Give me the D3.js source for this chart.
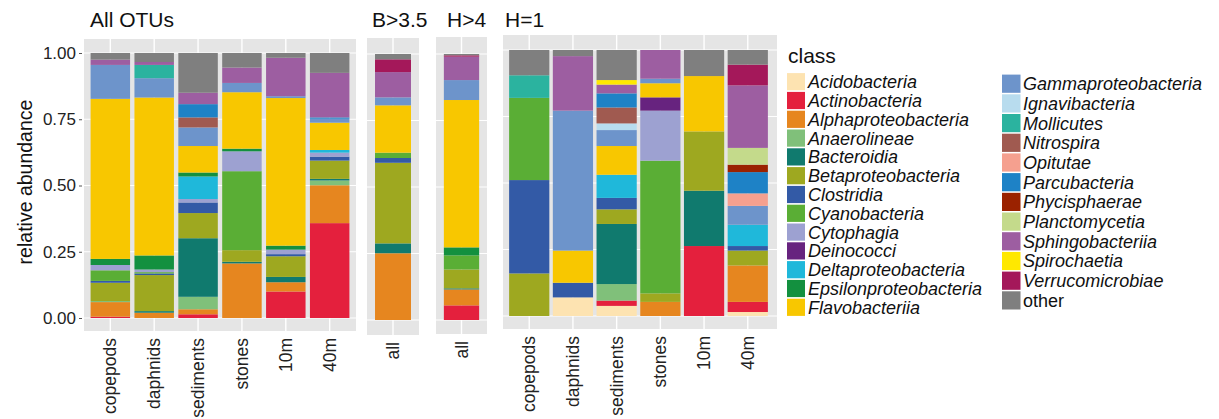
<!DOCTYPE html>
<html>
<head>
<meta charset="utf-8">
<script src="https://cdn.jsdelivr.net/npm/d3@7"></script>
<style>
  body { margin: 0; background: #ffffff; }
  svg { display: block; }
  text { font-family: "Liberation Sans", Arial, Helvetica, sans-serif; }
</style>
</head>
<body>
<svg id="chart" width="1219" height="419"></svg>
<script>
// Bacterial classes, in legend / stacking order (bottom of each bar first)
const classes = [
  "Acidobacteria", "Actinobacteria", "Alphaproteobacteria", "Anaerolineae",
  "Bacteroidia", "Betaproteobacteria", "Clostridia", "Cyanobacteria",
  "Cytophagia", "Deinococci", "Deltaproteobacteria", "Epsilonproteobacteria",
  "Flavobacteriia", "Gammaproteobacteria", "Ignavibacteria", "Mollicutes",
  "Nitrospira", "Opitutae", "Parcubacteria", "Phycisphaerae",
  "Planctomycetia", "Sphingobacteriia", "Spirochaetia", "Verrucomicrobiae", "other"
];
const classColors = [
  "#fde3b1", "#e4203d", "#e6861f", "#80c07a",
  "#107a6e", "#9ea820", "#335aa6", "#5aae35",
  "#9da1d1", "#67237f", "#1fb8da", "#13903f",
  "#f8c700", "#6d94cb", "#b8dcee", "#2bb39f",
  "#a05a50", "#f5a08f", "#1e82c6", "#9a2200",
  "#c4da8b", "#9d5ea1", "#ffe800", "#a4185a", "#7f7f7f"
];

const sites = ["copepods", "daphnids", "sediments", "stones", "10m", "40m"];
const pooled = ["all"];
const panelTitles = ["All OTUs", "B>3.5", "H>4", "H=1"];
const yTicks = [0, 0.25, 0.5, 0.75, 1];

// Relative abundance of each class (same order as `classes`) per bar
// --- All OTUs
const allCopepods  = [0, .005, .055, .004, 0, .069, .007, .040, .020, 0, 0, .023, .604, .128, 0, 0, 0, 0, 0, 0, 0, .020, 0, 0, .025];
const allDaphnids  = [0, 0, .020, 0, .006, .136, .006, .005, .010, 0, 0, .053, .596, .073, 0, .050, 0, 0, 0, 0, 0, .011, 0, 0, .034];
const allSediments = [0, .014, .019, .047, .221, .095, .040, 0, .013, 0, .085, .015, .100, .070, 0, 0, .038, 0, .050, 0, 0, .043, 0, 0, .150];
const allStones    = [0, 0, .206, 0, .006, .044, 0, .298, .075, 0, 0, .010, .213, .035, 0, 0, 0, 0, 0, 0, 0, .058, 0, 0, .055];
const all10m       = [0, .100, .035, 0, .020, .078, .008, 0, .017, 0, 0, .015, .557, .007, 0, 0, 0, 0, 0, 0, 0, .145, 0, 0, .018];
const all40m       = [0, .358, .143, .018, .006, .069, .015, 0, .015, 0, .010, 0, .103, .015, 0, 0, 0, 0, .005, 0, 0, .168, 0, 0, .075];
// --- B>3.5 and H>4 (pooled)
const b35All = [0, 0, .251, 0, .037, .303, .018, .020, 0, 0, 0, 0, .178, .030, 0, 0, 0, 0, 0, 0, 0, .095, 0, .048, .020];
const h4All  = [0, .055, .060, 0, .004, .071, 0, .053, 0, 0, 0, .030, .554, .075, 0, 0, 0, 0, 0, 0, 0, .088, 0, .005, .005];
// --- H=1
const h1Copepods  = [0, 0, 0, 0, 0, .160, .351, .309, 0, 0, 0, 0, 0, 0, 0, .085, 0, 0, 0, 0, 0, 0, 0, 0, .095];
const h1Daphnids  = [.070, 0, 0, 0, 0, 0, .055, 0, 0, 0, 0, 0, .121, .526, 0, 0, 0, 0, 0, 0, 0, .205, 0, 0, .023];
const h1Sediments = [.038, .020, 0, .062, .226, .055, .043, 0, 0, 0, .087, 0, .108, .060, .025, 0, .060, 0, .053, 0, 0, .033, .017, 0, .113];
const h1Stones    = [0, 0, .053, 0, 0, .032, 0, .499, .188, .050, 0, 0, .053, .017, 0, 0, 0, 0, 0, 0, 0, .108, 0, 0, 0];
const h1_10m      = [0, .263, 0, 0, .208, .223, 0, 0, 0, 0, 0, 0, .208, 0, 0, 0, 0, 0, 0, 0, 0, 0, 0, 0, .098];
const h1_40m      = [.015, .038, .137, 0, 0, .056, .017, 0, 0, 0, .080, 0, 0, .071, 0, 0, 0, .047, .080, .028, .063, .235, 0, .078, .055];

const svg = d3.select("#chart");
const color = d3.scaleOrdinal().domain(classes).range(classColors);
const stack = d3.stack().keys(classes);

// Panel geometry (facets)
const panels = [
  { title: panelTitles[0], cats: sites, bars: [allCopepods, allDaphnids, allSediments, allStones, all10m, all40m],
    x0: 84, x1: 356, bx1: 356, top: 39, bottom: 331, yZero: 318, yOne: 53, titleX: 90, barFrac: 0.9, axis: true },
  { title: panelTitles[1], cats: pooled, bars: [b35All],
    x0: 367, x1: 419, bx1: 419, top: 38, bottom: 335, yZero: 320, yOne: 54, titleX: 372, barFrac: 0.83, axis: false },
  { title: panelTitles[2], cats: pooled, bars: [h4All],
    x0: 436, x1: 487, bx1: 487, top: 37, bottom: 334, yZero: 320, yOne: 54, titleX: 447, barFrac: 0.83, axis: false },
  { title: panelTitles[3], cats: sites, bars: [h1Copepods, h1Daphnids, h1Sediments, h1Stones, h1_10m, h1_40m],
    x0: 503, x1: 777, bx1: 774, top: 35, bottom: 329, yZero: 316, yOne: 50, titleX: 505, barFrac: 0.92, axis: false }
];

panels.forEach(p => {
  const x = d3.scaleBand().domain(p.cats).range([p.x0, p.bx1]).paddingInner(0).paddingOuter(0.1);
  const y = d3.scaleLinear().domain([0, 1]).range([p.yZero, p.yOne]);
  const g = svg.append("g");

  // panel background
  g.append("rect")
    .attr("x", p.x0).attr("y", p.top)
    .attr("width", p.x1 - p.x0).attr("height", p.bottom - p.top)
    .attr("fill", "#e5e5e5");

  // grid lines
  g.selectAll("line.hgrid").data(yTicks).join("line")
    .attr("class", "hgrid")
    .attr("x1", p.x0).attr("x2", p.x1)
    .attr("y1", d => y(d)).attr("y2", d => y(d))
    .attr("stroke", "#ffffff").attr("stroke-width", 1.2);
  g.selectAll("line.vgrid").data(p.cats).join("line")
    .attr("class", "vgrid")
    .attr("x1", d => x(d) + x.bandwidth() / 2).attr("x2", d => x(d) + x.bandwidth() / 2)
    .attr("y1", p.top).attr("y2", p.bottom)
    .attr("stroke", "#ffffff").attr("stroke-width", 1.4);

  // stacked bars
  const rows = p.bars.map((vals, i) => {
    const r = { cat: p.cats[i] };
    classes.forEach((c, k) => { r[c] = vals[k]; });
    return r;
  });
  const series = stack(rows);
  const bw = x.bandwidth() * p.barFrac;
  g.selectAll("g.layer").data(series).join("g")
    .attr("class", "layer")
    .attr("fill", d => color(d.key))
    .selectAll("rect").data(d => d.filter(s => s[1] - s[0] > 0)).join("rect")
      .attr("x", d => x(d.data.cat) + (x.bandwidth() - bw) / 2)
      .attr("width", bw)
      .attr("y", d => y(d[1]))
      .attr("height", d => y(d[0]) - y(d[1]));

  // facet title
  svg.append("text")
    .attr("x", p.titleX).attr("y", 27)
    .attr("font-size", 21).attr("fill", "#111")
    .text(p.title);

  // category labels
  g.selectAll("text.cat").data(p.cats).join("text")
    .attr("class", "cat")
    .attr("transform", d => `translate(${x(d) + x.bandwidth() / 2},${p.bottom + 7}) rotate(-90)`)
    .attr("text-anchor", "end")
    .attr("dy", "0.35em")
    .attr("font-size", 17.5)
    .attr("fill", "#222")
    .text(d => d);

  // y axis on the first facet
  if (p.axis) {
    const ax = svg.append("g")
      .attr("transform", `translate(${p.x0 - 2},0)`)
      .call(d3.axisLeft(y).tickValues(yTicks).tickFormat(d3.format(".2f")).tickSize(3).tickPadding(3));
    ax.select(".domain").remove();
    ax.selectAll(".tick line").attr("stroke", "#555");
    ax.selectAll(".tick text")
      .attr("font-size", 17).attr("fill", "#222")
      .attr("font-family", "'Liberation Sans', Arial, sans-serif");
  }
});

// y axis title
svg.append("text")
  .attr("transform", "translate(32,182) rotate(-90)")
  .attr("text-anchor", "middle")
  .attr("font-size", 19.5).attr("fill", "#111")
  .text("relative abundance");

// legend
const legend = svg.append("g");
legend.append("text")
  .attr("x", 788).attr("y", 63)
  .attr("font-size", 21).attr("fill", "#111")
  .text("class");

const col1 = classes.slice(0, 13);
const col2 = classes.slice(13);
const legendCols = [
  { items: col1, keyX: 787, textX: 808, y0: 81.7, step: 18.8, keyW: 18, keyH: 17.2 },
  { items: col2, keyX: 1002, textX: 1023, y0: 83.7, step: 19.7, keyW: 18.5, keyH: 18.2 }
];
legendCols.forEach(col => {
  const items = legend.append("g").selectAll("g").data(col.items).join("g")
    .attr("transform", (d, i) => `translate(0,${col.y0 + i * col.step})`);
  items.append("rect")
    .attr("x", col.keyX).attr("y", -col.keyH / 2)
    .attr("width", col.keyW).attr("height", col.keyH)
    .attr("fill", d => color(d));
  items.append("text")
    .attr("x", col.textX).attr("dy", "0.36em")
    .attr("font-size", 18)
    .attr("font-style", d => d === "other" ? "normal" : "italic")
    .attr("fill", "#111")
    .text(d => d);
});
</script>
</body>
</html>
